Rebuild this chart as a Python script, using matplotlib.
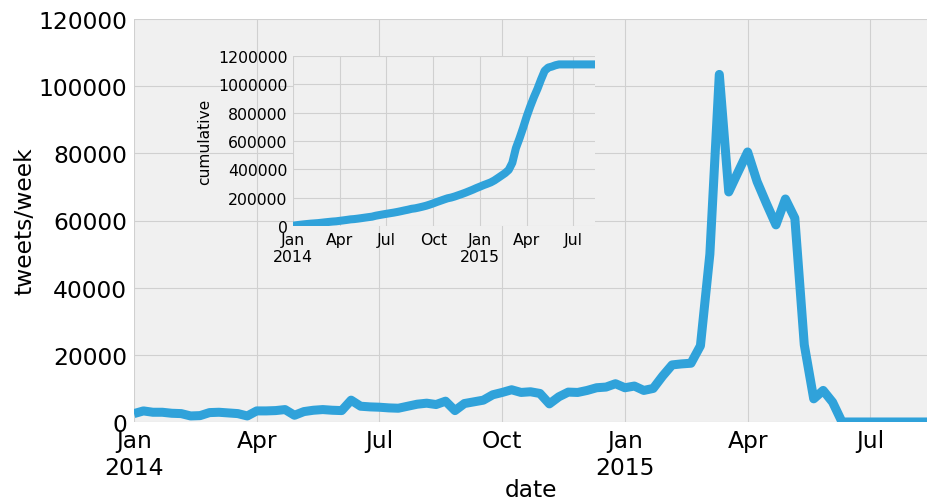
import numpy as np
import pandas as pd
import matplotlib
matplotlib.use('Agg')
import matplotlib.pyplot as plt

# ---- data -------------------------------------------------------------
week_end = pd.date_range('2014-01-05', periods=85, freq='W-SUN')

tweets_per_week = [
    2500, 3300, 2900, 2900, 2600, 2500, 1800, 1900, 2800, 2900,
    2700, 2500, 1800, 3300, 3300, 3400, 3700, 2000, 3100, 3500,
    3700, 3500, 3400, 6500, 4700, 4500, 4400, 4200, 4100, 4700,
    5300, 5600, 5200, 6200, 3400, 5500, 6000, 6500, 8100, 8800,
    9600, 8800, 9000, 8500, 5400, 7500, 8900, 8800, 9400, 10200,
    10400, 11400, 10200, 10700, 9400, 10000, 13700, 17000, 17300, 17500,
    22700, 50000, 103500, 68500, 74500, 80400, 71600, 65000, 58700, 66400,
    60700, 23000, 6900, 9400, 5900, 0, 0, 0, 0, 0,
    0, 0, 0, 0, 0,
]
cumulative = np.cumsum(tweets_per_week)

main_yticks = [0, 20000, 40000, 60000, 80000, 100000, 120000]
inset_yticks = [0, 200000, 400000, 600000, 800000, 1000000, 1200000]
quarter_months = {1: 'Jan', 4: 'Apr', 7: 'Jul', 10: 'Oct'}

# quarterly ticks at the first week of Jan/Apr/Jul/Oct (pandas style)
tick_pos, tick_lab, seen = [], [], set()
for d in week_end:
    key = (d.year, d.month)
    if d.month in quarter_months and key not in seen:
        seen.add(key)
        tick_pos.append(d)
        tick_lab.append(quarter_months[d.month] + (f"\n{d.year}" if d.month == 1 else ""))

# ---- style ------------------------------------------------------------
plt.rcParams['font.family'] = ['DejaVu Sans']
LINE = '#30a2da'
BG = '#f0f0f0'
GRID = '#d0d0d0'

W, H = 927, 502
fig = plt.figure(figsize=(W / 100, H / 100), dpi=100, facecolor='white')


def style(ax):
    ax.set_facecolor(BG)
    for s in ax.spines.values():
        s.set_visible(False)
    ax.grid(True, color=GRID, linewidth=0.8, linestyle='-')
    ax.set_axisbelow(True)


# main axes
ax = fig.add_axes([134 / W, (H - 423) / H, (927 - 134) / W, (423 - 20) / H])
style(ax)
ax.plot(week_end, tweets_per_week, color=LINE, linewidth=6.5,
        solid_capstyle='butt', solid_joinstyle='round')
ax.set_xlim(week_end[0], week_end[-1])
ax.set_ylim(0, 120000)
ax.set_yticks(main_yticks)
ax.set_yticklabels([str(v) for v in main_yticks])
ax.set_xticks(tick_pos)
ax.set_xticklabels(tick_lab)
ax.xaxis.set_minor_locator(matplotlib.ticker.NullLocator())
ax.tick_params(length=0, labelsize=16.8, pad=5)
ax.set_ylabel('tweets/week', fontsize=16.8)
ax.yaxis.set_label_coords((36 - 134) / 793, 0.5)
ax.set_xlabel('date', fontsize=16.8)
ax.xaxis.set_label_coords(0.5, -(479 - 423) / 403)

# inset axes
ax2 = fig.add_axes([293 / W, (H - 227) / H, (595 - 293) / W, (227 - 57) / H])
style(ax2)
ax2.plot(week_end, cumulative, color=LINE, linewidth=5.8,
         solid_capstyle='butt', solid_joinstyle='round')
ax2.set_xlim(week_end[0], week_end[-1])
ax2.set_ylim(0, 1200000)
ax2.set_yticks(inset_yticks)
ax2.set_yticklabels([str(v) for v in inset_yticks])
ax2.set_xticks(tick_pos)
ax2.set_xticklabels(tick_lab)
ax2.xaxis.set_minor_locator(matplotlib.ticker.NullLocator())
ax2.tick_params(length=0, labelsize=11.3, pad=4)
ax2.set_ylabel('cumulative', fontsize=11.2)

fig.savefig('out.png', dpi=100, facecolor='white')
